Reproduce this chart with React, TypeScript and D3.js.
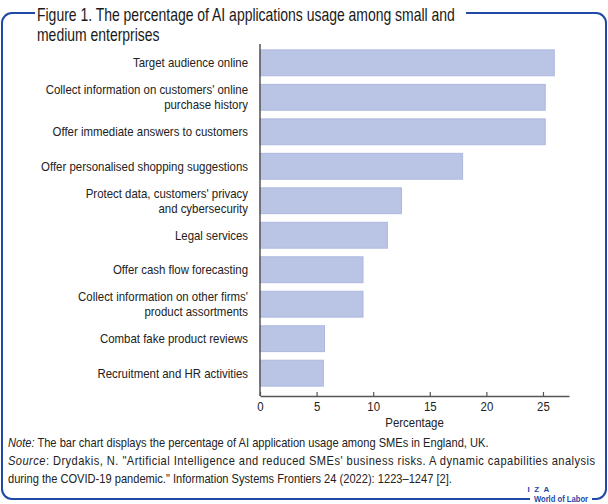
import React, { useRef, useEffect } from 'react';
import { select, scaleBand, scaleLinear, axisBottom } from 'd3';

const categories = [
  'Target audience online',
  "Collect information on customers' online\npurchase history",
  'Offer immediate answers to customers',
  'Offer personalised shopping suggestions',
  "Protect data, customers' privacy\nand cybersecurity",
  'Legal services',
  'Offer cash flow forecasting',
  "Collect information on other firms'\nproduct assortments",
  'Combat fake product reviews',
  'Recruitment and HR activities',
];
const values = [26.0, 25.2, 25.2, 17.9, 12.5, 11.25, 9.1, 9.1, 5.7, 5.6];
const xTicks = [0, 5, 10, 15, 20, 25];

const titleLines = [
  'Figure 1. The percentage of AI applications usage among small and',
  'medium enterprises',
];

const dims = {
  width: 608,
  height: 504,
  left: 260,
  right: 569,
  top: 43,
  bottom: 393,
  axisY: 396,
};

// no condensed font installed, so squeeze Liberation Sans horizontally
const font = '"Liberation Sans", Arial, sans-serif';
const squeeze = 0.88;
const noteSqueeze = 0.855;
const frameColor = '#1f49a6';
const textColor = '#222';

const NText = ({ x, y, sx = squeeze, size = 13, anchor = 'start', children, ...rest }: any) => (
  <text
    transform={`translate(${x},${y}) scale(${sx},1)`}
    fontSize={size}
    textAnchor={anchor}
    fill={textColor}
    {...rest}
  >
    {children}
  </text>
);

const App = () => {
  const axisRef = useRef<SVGGElement>(null);

  const x = scaleLinear().domain([0, 27.3]).range([dims.left, dims.right]);
  const y = scaleBand<string>()
    .domain(categories)
    .range([dims.top, dims.bottom])
    .paddingInner(0.25)
    .paddingOuter(0.2);

  useEffect(() => {
    const g = select(axisRef.current);
    g.call(
      axisBottom(x)
        .tickValues(xTicks)
        .tickSizeInner(-4)
        .tickSizeOuter(0)
        .tickPadding(6)
    );
    g.select('.domain').attr('stroke', '#555').attr('stroke-width', 1.5);
    g.selectAll('.tick line').attr('stroke', '#555').attr('stroke-width', 1.2);
    g.selectAll('.tick text')
      .attr('font-family', font)
      .attr('font-size', 13)
      .attr('fill', textColor)
      .attr('transform', `scale(${squeeze},1)`);
  }, []);

  return (
    <svg
      width={dims.width}
      height={dims.height}
      style={{ position: 'absolute', left: 0, top: 0, background: '#fff' }}
      fontFamily={font}
    >
      {/* frame */}
      <path
        d="M35,13 H12 A10,10 0 0 0 2,23 V489 A10,10 0 0 0 12,499 H530 M592,499 H596 A10,10 0 0 0 606,489 V23 A10,10 0 0 0 596,13 H466"
        fill="none"
        stroke={frameColor}
        strokeWidth={2}
      />
      {titleLines.map((t, i) => (
        <NText key={i} x={37} y={21 + i * 20} size={18.5} sx={0.755} fill="#1a1a1a">
          {t}
        </NText>
      ))}

      {/* bars */}
      {categories.map((c, i) => (
        <rect
          key={c}
          x={x(0)}
          y={y(c)}
          width={x(values[i]) - x(0)}
          height={y.bandwidth()}
          fill="#bac4e5"
          stroke="#adb8e0"
          strokeWidth={1}
        />
      ))}

      {/* category labels */}
      {categories.map((c) => {
        const lines = c.split('\n');
        const cy = (y(c) ?? 0) + y.bandwidth() / 2;
        return lines.map((l, j) => (
          <NText
            key={c + j}
            x={dims.left - 12}
            y={cy + 4.5 + (j - (lines.length - 1) / 2) * 15}
            anchor="end"
          >
            {l}
          </NText>
        ));
      })}

      {/* y axis line */}
      <line
        x1={x(0)}
        x2={x(0)}
        y1={dims.top + 1}
        y2={dims.axisY}
        stroke="#555"
        strokeWidth={1.5}
      />
      <g ref={axisRef} transform={`translate(0,${dims.axisY})`} />
      <NText x={(x(0) + x(27.3)) / 2} y={427} anchor="middle">
        Percentage
      </NText>

      {/* notes */}
      <NText x={8} y={447} sx={noteSqueeze}>
        <tspan fontStyle="italic">Note:</tspan> The bar chart displays the
        percentage of AI application usage among SMEs in England, UK.
      </NText>
      {/* justified first line of the source paragraph */}
      <NText
        x={8}
        y={465}
        sx={noteSqueeze}
        textLength={587 / noteSqueeze}
        lengthAdjust="spacing"
      >
        <tspan fontStyle="italic">Source</tspan>: Drydakis, N. "Artificial
        Intelligence and reduced SMEs' business risks. A dynamic capabilities
        analysis
      </NText>
      <NText x={8} y={483} sx={noteSqueeze}>
        during the COVID-19 pandemic." Information Systems Frontiers 24 (2022):
        1223–1247 [2].
      </NText>

      {/* logo */}
      <NText
        x={539}
        y={492}
        anchor="middle"
        size={8}
        sx={1}
        fontWeight="bold"
        fill={frameColor}
        letterSpacing={1.2}
      >
        I Z A
      </NText>
      <NText x={561} y={502} anchor="middle" size={9} sx={0.85} fontWeight="bold" fill={frameColor}>
        World of Labor
      </NText>
    </svg>
  );
};

export default App;
